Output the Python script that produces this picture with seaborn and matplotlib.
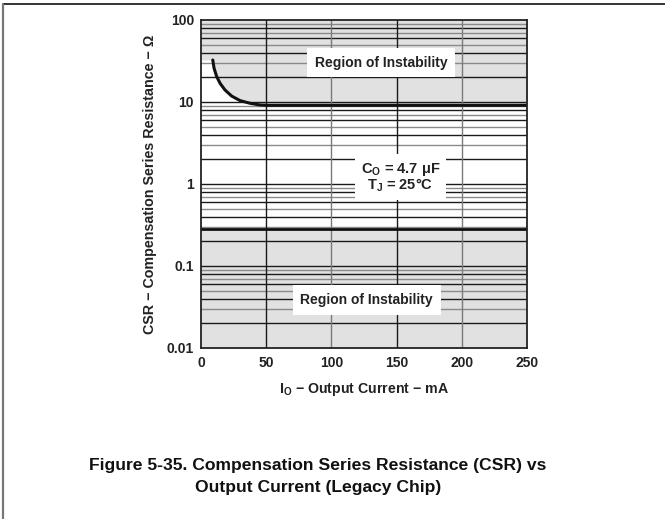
import numpy as np
import pandas as pd
import matplotlib
matplotlib.use("Agg")
import matplotlib.pyplot as plt
import seaborn as sns

# upper stability boundary (CSR max) vs output current
io_upper = [9, 10, 12, 14.6, 18.4, 23.5, 29.9, 37.6, 45.2, 50.4, 250]
csr_upper = [32.5, 25.8, 20.4, 16.9, 14.0, 11.8, 10.4, 9.64, 9.19, 9.1, 9.1]

# lower stability boundary (CSR min)
io_lower = [0, 250]
csr_lower = [0.28, 0.28]

x_ticks = [0, 50, 100, 150, 200, 250]
y_ticks = [0.01, 0.1, 1, 10, 100]
y_tick_labels = ["0.01", "0.1", "1", "10", "100"]

sns.set_style("white")
plt.rcParams["font.family"] = ["Liberation Sans", "DejaVu Sans"]
plt.rcParams["mathtext.fontset"] = "custom"
plt.rcParams["mathtext.bf"] = "Liberation Sans:bold"
plt.rcParams["mathtext.rm"] = "Liberation Sans:bold"
plt.rcParams["mathtext.default"] = "bf"

fig = plt.figure(figsize=(6.65, 5.19), dpi=100)
ax = fig.add_axes([0.3023, 0.3295, 0.4902, 0.632])

shade = "#e1e1e1"
# shaded regions of instability
fill_x = [0] + io_upper
fill_y = [csr_upper[0]] + csr_upper
ax.fill_between(fill_x, fill_y, 100, color=shade, lw=0, zorder=0)
ax.fill_between(io_lower, 0.01, csr_lower, color=shade, lw=0, zorder=0)

# log grid, alternating dark / grey lines
for dec in [0.01, 0.1, 1, 10]:
    for k in range(1, 10):
        v = k * dec
        if v <= 0.01:
            continue
        col = "#1a1a1a" if (k % 2 == 0 or k == 1) else "#8a8a8a"
        ax.axhline(v, color=col, lw=1.0, zorder=1)
for i, xv in enumerate([50, 100, 150, 200]):
    col = "#1a1a1a" if i % 2 == 0 else "#7a7a7a"
    ax.axvline(xv, color=col, lw=1.0, zorder=1)

df_up = pd.DataFrame({"io": io_upper, "csr": csr_upper})
df_lo = pd.DataFrame({"io": io_lower, "csr": csr_lower})
sns.lineplot(data=df_up, x="io", y="csr", ax=ax, color="#111111", lw=2.2, zorder=3)
sns.lineplot(data=df_lo, x="io", y="csr", ax=ax, color="#111111", lw=2.0, zorder=3)

ax.set_yscale("log")
ax.set_xlim(0, 250)
ax.set_ylim(0.01, 100)
ax.set_xticks(x_ticks)
ax.set_xticklabels([str(v) for v in x_ticks])
ax.set_yticks(y_ticks)
ax.set_yticklabels(y_tick_labels)
ax.minorticks_off()
ax.tick_params(axis="both", length=0, labelsize=10)
ax.tick_params(axis="y", pad=5)
ax.tick_params(axis="x", pad=6)
for lab in ax.get_xticklabels() + ax.get_yticklabels():
    lab.set_fontweight("bold")
    lab.set_color("#222222")
for sp in ax.spines.values():
    sp.set_color("#222222")
    sp.set_linewidth(1.3)
    sp.set_zorder(4)

ax.set_xlabel(r"I$_\mathbf{O}$ − Output Current − mA", fontsize=10.2,
              fontweight="bold", color="#222222", labelpad=8)
ax.set_ylabel("CSR − Compensation Series Resistance − Ω", fontsize=10.3,
              fontweight="bold", color="#222222", labelpad=7)

box = dict(facecolor="white", edgecolor="none", pad=5.5)
ax.text(138, 30, "Region of Instability", ha="center", va="center",
        fontsize=10, fontweight="bold", color="#222222", bbox=box, zorder=5)
ax.text(127, 0.0385, "Region of Instability", ha="center", va="center",
        fontsize=10, fontweight="bold", color="#222222", bbox=box, zorder=5)
ax.text(153, 1.2, "C$_\\mathbf{O}$ = 4.7 μF\nT$_\\mathbf{J}$ = 25°C", ha="center",
        va="center", fontsize=10.5, fontweight="bold", color="#222222",
        linespacing=0.95, bbox=dict(facecolor="white", edgecolor="none", pad=4),
        zorder=5)

fig.text(0.478, 0.082, "Figure 5-35. Compensation Series Resistance (CSR) vs\nOutput Current (Legacy Chip)",
         ha="center", va="center", fontsize=12.6, fontweight="bold",
         color="#111111", linespacing=1.6)

# page frame lines
fig.add_artist(plt.Line2D([0.005, 1.0], [0.992, 0.992], color="#111111", lw=1.2))
fig.add_artist(plt.Line2D([0.005, 0.005], [0.0, 0.992], color="#777777", lw=1.6))

fig.savefig("out.png", dpi=100)
